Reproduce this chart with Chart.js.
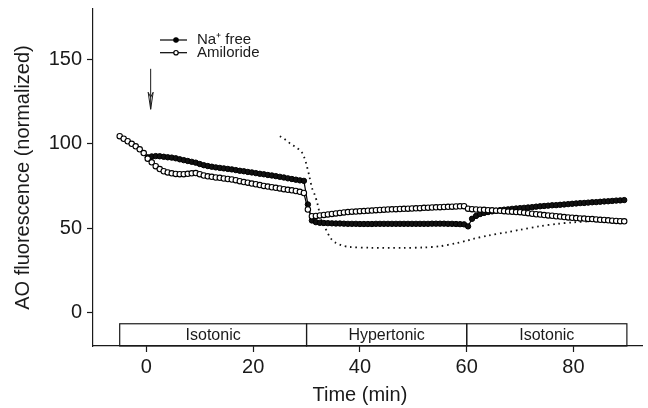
<!DOCTYPE html>
<html>
<head>
<meta charset="utf-8">
<script src="https://cdn.jsdelivr.net/npm/chart.js@4.4.0/dist/chart.umd.min.js"></script>
<style>
  html, body { margin: 0; padding: 0; background: #fff; }
  #wrap { width: 648px; height: 408px; }
</style>
</head>
<body>
<div id="wrap"><canvas id="myChart" width="648" height="408"></canvas></div>
<script>
// sampling times (min), one reading every 45 s
const times = [-5, -4.25, -3.5, -2.75, -2, -1.25, -0.5, 0.25, 1, 1.75,
    2.5, 3.25, 4, 4.75, 5.5, 6.25, 7, 7.75, 8.5, 9.25,
    10, 10.75, 11.5, 12.25, 13, 13.75, 14.5, 15.25, 16, 16.75,
    17.5, 18.25, 19, 19.75, 20.5, 21.25, 22, 22.75, 23.5, 24.25,
    25, 25.75, 26.5, 27.25, 28, 28.75, 29.5, 30.25, 31, 31.75,
    32.5, 33.25, 34, 34.75, 35.5, 36.25, 37, 37.75, 38.5, 39.25,
    40, 40.75, 41.5, 42.25, 43, 43.75, 44.5, 45.25, 46, 46.75,
    47.5, 48.25, 49, 49.75, 50.5, 51.25, 52, 52.75, 53.5, 54.25,
    55, 55.75, 56.5, 57.25, 58, 58.75, 59.5, 60.25, 61, 61.75,
    62.5, 63.25, 64, 64.75, 65.5, 66.25, 67, 67.75, 68.5, 69.25,
    70, 70.75, 71.5, 72.25, 73, 73.75, 74.5, 75.25, 76, 76.75,
    77.5, 78.25, 79, 79.75, 80.5, 81.25, 82, 82.75, 83.5, 84.25,
    85, 85.75, 86.5, 87.25, 88, 88.75, 89.5];

const naFree = [null, null, null, null, null, null, null, 92, 92.5, 92.7,
    92.6, 92.3, 92, 91.8, 91.4, 90.8, 90.3, 89.8, 89.3, 88.8,
    88, 87.3, 86.8, 86.4, 86, 85.7, 85.4, 85.1, 84.8, 84.4,
    84, 83.7, 83.3, 83, 82.6, 82.2, 81.9, 81.5, 81.2, 80.8,
    80.4, 80, 79.5, 79.1, 78.7, 78.3, 78, 64, 54.5, 53.5,
    53.1, 53, 52.9, 52.8, 52.7, 52.7, 52.6, 52.5, 52.5, 52.5,
    52.4, 52.4, 52.4, 52.4, 52.5, 52.5, 52.5, 52.5, 52.5, 52.5,
    52.5, 52.5, 52.5, 52.5, 52.5, 52.5, 52.5, 52.5, 52.6, 52.6,
    52.6, 52.6, 52.5, 52.5, 52.4, 52.3, 52.2, 51, 55.5, 57.2,
    58.3, 59, 59.5, 59.9, 60.3, 60.6, 60.9, 61.1, 61.4, 61.6,
    61.8, 62, 62.2, 62.4, 62.7, 62.9, 63.1, 63.3, 63.5, 63.6,
    63.8, 64, 64.2, 64.4, 64.6, 64.8, 64.9, 65.1, 65.3, 65.4,
    65.6, 65.8, 65.9, 66.1, 66.3, 66.4, 66.6];

const amiloride = [104.5, 103, 101.5, 100, 98.5, 96.7, 94.5, 91.2, 89, 86.7,
    85, 83.7, 83, 82.5, 82.1, 82, 82, 82.2, 82.5, 82.6,
    82, 81.2, 80.7, 80.4, 80, 79.8, 79.4, 79.1, 78.8, 78.4,
    77.8, 77.3, 76.9, 76.4, 76, 75.5, 75, 74.6, 74.2, 73.9,
    73.5, 73.1, 72.7, 72.4, 72, 71.5, 70.8, 61, 57, 57.2,
    57.5, 57.8, 58.1, 58.4, 58.7, 59, 59.3, 59.5, 59.7, 59.8,
    60, 60.1, 60.3, 60.4, 60.6, 60.7, 60.9, 61, 61.1, 61.2,
    61.3, 61.4, 61.5, 61.6, 61.7, 61.8, 62, 62.1, 62.2, 62.3,
    62.4, 62.5, 62.6, 62.7, 62.8, 62.9, 63, 61.5, 61.2, 61,
    60.9, 60.8, 60.6, 60.5, 60.3, 60.2, 60, 59.8, 59.7, 59.5,
    59.4, 59.1, 58.8, 58.5, 58.2, 58, 57.7, 57.5, 57.3, 57,
    56.8, 56.5, 56.3, 56.1, 55.9, 55.7, 55.6, 55.4, 55.3, 55.1,
    54.9, 54.8, 54.6, 54.4, 54.2, 54.1, 54];

// dotted reference trace
const dotTimes = [25, 26, 27, 28, 29, 29.5, 30, 30.5, 31, 31.5, 32, 32.5, 33, 33.5, 34.5, 35.5, 36.5, 38,
    42, 48, 52, 55, 58, 60, 61.2, 64, 67.5, 70, 73.7, 77, 80, 84, 89];
const dotValues = [104.5, 102.5, 100, 98, 95.5, 92.5, 87.5, 81, 74, 70, 65, 58, 52.5, 50, 44, 41.2, 39.8, 38.8,
    38.3, 38.2, 38.5, 39.2, 41, 42.5, 43.6, 45.5, 47.5, 49, 51.1, 52.5, 53.4, 54.2, 55];

const xTicks = [0, 20, 40, 60, 80];
const yTicks = [0, 50, 100, 150];

// condition bar under the traces
const phaseBounds = [-5, 30, 60, 90];
const phaseLabels = ['Isotonic', 'Hypertonic', 'Isotonic'];

const seriesLabels = ['Na\u207A free', 'Amiloride'];
const xTitle = 'Time (min)';
const arrowTime = 0.8;
const arrowFrom = 144.5;
const arrowTo = 120.5;

const FONT = "'Liberation Sans', Arial, Helvetica, sans-serif";
const INK = '#1a1a1a';

const ctx = document.getElementById('myChart').getContext('2d');

const extras = {
    id: 'extras',
    afterDraw(chart) {
        const c = chart.ctx;
        const xs = chart.scales.x;
        const ys = chart.scales.y;
        c.save();

        // phase boxes
        const top = ys.getPixelForValue(-6.8);
        const bottom = ys.getPixelForValue(-20);
        c.strokeStyle = INK;
        c.lineWidth = 1.2;
        c.font = '16px ' + FONT;
        c.fillStyle = INK;
        c.textAlign = 'center';
        c.textBaseline = 'middle';
        for (let i = 0; i < phaseLabels.length; i++) {
            const x1 = xs.getPixelForValue(phaseBounds[i]);
            const x2 = xs.getPixelForValue(phaseBounds[i + 1]);
            c.strokeRect(x1, top, x2 - x1, bottom - top);
            c.fillText(phaseLabels[i], (x1 + x2) / 2, (top + bottom) / 2 + 1);
        }

        // x axis title, centred under the -10..90 span
        c.font = '20px ' + FONT;
        c.fillText(xTitle, (xs.getPixelForValue(-10) + xs.getPixelForValue(90)) / 2, 395);

        // arrow
        const ax = xs.getPixelForValue(arrowTime);
        const ay1 = ys.getPixelForValue(arrowFrom);
        const ay2 = ys.getPixelForValue(arrowTo);
        c.lineWidth = 1;
        c.beginPath();
        c.moveTo(ax, ay1);
        c.lineTo(ax, ay2);
        c.stroke();
        c.beginPath();
        c.moveTo(ax - 2.5, ay2 - 17);
        c.lineTo(ax, ay2);
        c.lineTo(ax + 2.5, ay2 - 17);
        c.lineTo(ax, ay2 - 12);
        c.closePath();
        c.stroke();

        // legend
        const lx = 160, lw = 27, tx = 197;
        const rows = [40, 52.7];
        c.textAlign = 'left';
        c.font = '15px ' + FONT;
        for (let i = 0; i < seriesLabels.length; i++) {
            const y = rows[i];
            c.beginPath();
            c.moveTo(lx, y);
            c.lineTo(lx + lw, y);
            c.strokeStyle = '#000';
            c.lineWidth = 1.2;
            c.stroke();
            c.beginPath();
            c.arc(lx + 16, y, 2.2, 0, Math.PI * 2);
            c.fillStyle = i === 0 ? '#000' : '#fff';
            c.fill();
            c.stroke();
            c.fillStyle = INK;
            c.fillText(seriesLabels[i], tx, y);
        }
        c.restore();
    }
};

const myChart = new Chart(ctx, {
    type: 'line',
    data: {
        datasets: [
            {
                label: seriesLabels[1],
                data: times.map((t, i) => ({ x: t, y: amiloride[i] })),
                borderColor: '#000',
                borderWidth: 1.2,
                backgroundColor: '#fff',
                pointBackgroundColor: '#fff',
                pointBorderColor: '#000',
                pointBorderWidth: 1.1,
                pointRadius: 2.7,
                tension: 0,
                order: 0,
            },
            {
                label: seriesLabels[0],
                data: times.map((t, i) => ({ x: t, y: naFree[i] })),
                borderColor: '#000',
                borderWidth: 1.2,
                backgroundColor: '#000',
                pointBackgroundColor: '#111',
                pointBorderColor: '#000',
                pointBorderWidth: 1,
                pointRadius: 2.7,
                tension: 0,
                spanGaps: false,
                order: 1,
            },
            {
                label: 'trace',
                data: dotTimes.map((t, i) => ({ x: t, y: dotValues[i] })),
                borderColor: '#111',
                borderWidth: 1.8,
                borderDash: [1.6, 3.8],
                pointRadius: 0,
                tension: 0.3,
                order: 2,
            },
        ],
    },
    options: {
        responsive: false,
        animation: false,
        layout: { padding: { top: 9, right: 5, left: 0, bottom: 0 } },
        plugins: {
            legend: { display: false },
            tooltip: { enabled: false },
        },
        scales: {
            x: {
                type: 'linear',
                min: -10,
                max: 93,
                afterFit: (scale) => { scale.height = 62; scale.paddingLeft = 0; scale.paddingRight = 0; },
                afterBuildTicks: (scale) => { scale.ticks = xTicks.map((v) => ({ value: v })); },
                grid: { drawOnChartArea: false, color: INK, tickLength: 6, tickWidth: 1.2 },
                border: { color: INK, width: 1.2 },
                ticks: { color: INK, font: { family: FONT, size: 20 }, padding: 3, maxRotation: 0 },
                title: { display: false },
            },
            y: {
                min: -20,
                max: 180,
                afterFit: (scale) => { scale.width = 93; scale.paddingTop = 0; scale.paddingBottom = 0; },
                afterBuildTicks: (scale) => { scale.ticks = yTicks.map((v) => ({ value: v })); },
                grid: { drawOnChartArea: false, color: INK, tickLength: 6, tickWidth: 1.2 },
                border: { color: INK, width: 1.2 },
                ticks: { color: INK, font: { family: FONT, size: 20 }, padding: 5 },
                title: { display: true, text: 'AO fluorescence (normalized)', color: INK, font: { family: FONT, size: 20 }, padding: { top: 11, bottom: 0 } },
            },
        },
    },
    plugins: [extras],
});
</script>
</body>
</html>
